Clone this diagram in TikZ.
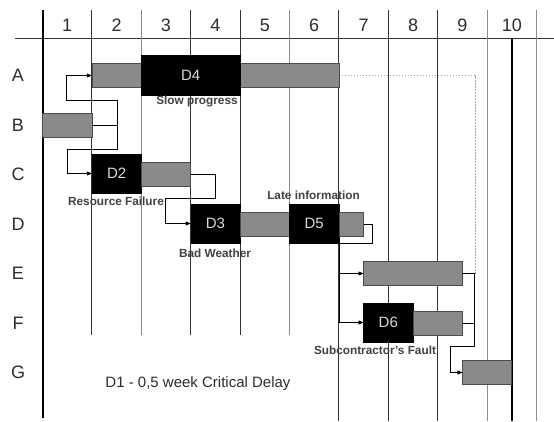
\documentclass[tikz,border=0pt]{standalone}
\usepackage{fontspec}
\setmainfont{Liberation Sans}
\usetikzlibrary{arrows.meta}
\definecolor{barg}{RGB}{138,138,138}
\definecolor{txt}{RGB}{45,45,45}
\begin{document}
\begin{tikzpicture}[x=1pt,y=-1pt,
  gbar/.style={draw=black!70, fill=barg, line width=0.8pt, inner sep=0pt, outer sep=0pt, minimum height=24pt, anchor=west},
  dbox/.style={draw=black, fill=black, inner sep=0pt, outer sep=0pt, minimum height=39pt, minimum width=49.4pt, anchor=west, text=white!85!black, font=\fontsize{15}{15}\selectfont},
  lbl/.style={font=\bfseries\fontsize{11.8}{11.8}\selectfont, text=txt!90!white, inner sep=0pt},
  hdr/.style={font=\fontsize{18}{18}\selectfont, text=txt, inner sep=0pt},
  gridd/.style={draw=black!80, line width=0.9pt},
  gridl/.style={draw=black!45, line width=0.9pt},
  conn/.style={draw=black, line width=0.7pt},
  arr/.style={conn, -{Triangle[length=5pt,width=4pt]}},
]
\useasboundingbox (0,0) rectangle (554,421);
\fill[white] (0,0) rectangle (554,421);

% grid
\draw[gridd] (15,38.5) -- (554,38.5);
\draw[gridd] (91.9,10) -- (91.9,335);
\draw[gridl] (141.3,10) -- (141.3,335);
\draw[gridd] (190.7,10) -- (190.7,335);
\draw[gridd] (240.1,10) -- (240.1,335);
\draw[gridl] (289.5,10) -- (289.5,335);
\draw[gridd] (338.9,10) -- (338.9,421);
\draw[gridd] (388.3,10) -- (388.3,421);
\draw[gridd] (437.7,10) -- (437.7,421);
\draw[gridl] (487.1,10) -- (487.1,421);
\draw[gridl] (536.5,10) -- (536.5,421);
\draw[line width=2pt] (42.5,10) -- (42.5,418);
\draw[line width=2.5pt] (511.8,38.5) -- (511.8,421);

% header labels
\foreach \c in {1,...,10} {
  \node[hdr] (col\c) at ({42.5+49.4*(\c-0.5)},25) {\c};
}
\foreach \r [count=\i from 0] in {A,B,C,D,E,F,G} {
  \node[hdr] (row\r) at (18,{75.5+49.5*\i}) {\r};
}

% dotted float line
\draw[black!35, line width=0.7pt, dash pattern=on 1.5pt off 1.5pt] (338.9,75.5) -| (475,273.5);

% bars
\node[gbar, minimum width=247pt] (barA) at (91.9,75.5) {};
\node[dbox, minimum width=98.8pt, minimum height=40pt] (D4) at (141.3,75) {D4};
\node[gbar, minimum width=49.4pt] (barB) at (42.5,125) {};
\node[dbox] (D2) at (91.9,173.5) {D2};
\node[gbar, minimum width=49.4pt] (barC) at (141.3,174.5) {};
\node[dbox] (D3) at (190.7,223.5) {D3};
\node[gbar, minimum width=49.4pt] (barD1) at (240.1,224) {};
\node[dbox] (D5) at (289.5,223.5) {D5};
\node[gbar, minimum width=24.7pt] (barD2) at (338.9,224) {};
\node[gbar, minimum width=98.8pt] (barE) at (363.6,273.5) {};
\node[dbox] (D6) at (363.6,322.5) {D6};
\node[gbar, minimum width=49.4pt] (barF) at (413,323) {};
\node[gbar, minimum width=49.4pt] (barG) at (462.4,372.5) {};

% connectors
\coordinate (fB) at (117,125);
\draw[conn] (barB.east) -- (fB);
\draw[arr] (fB) |- (66,100) |- (barA.west);
\draw[arr] (fB) |- (67.7,149) |- (D2.west);
\draw[arr] (barC.east) -- ++(24.3,0) |- (165.7,198) |- (D3.west);
\draw[conn] (barD2.east) -- ++(9.1,0) |- (D5.south east);
\coordinate (fE) at (338.9,273.5);
\coordinate (fF) at (338.9,322.5);
\draw[conn] (D5.south east) -- (fF);
\draw[arr] (fE) -- (barE.west);
\draw[arr] (fF) -- (D6.west);
\coordinate (fG) at (474,323);
\draw[arr] (barE.east) -- ++(11.6,0) |- (450,346) |- (barG.west);
\draw[conn] (barF.east) -- (fG);

% labels
\node[lbl] (tslow) at (197,101.7) {Slow progress};
\node[lbl] (tres) at (116,201.7) {Resource Failure};
\node[lbl] (tbad) at (215,253) {Bad Weather};
\node[lbl] (tlate) at (313.5,195) {Late information};
\node[lbl] (tsub) at (375,350) {Subcontractor's Fault};
\node[font=\fontsize{15}{15}\selectfont, text=txt, inner sep=0pt] (tnote) at (198,384) {D1 - 0,5 week Critical Delay};
\end{tikzpicture}
\end{document}
